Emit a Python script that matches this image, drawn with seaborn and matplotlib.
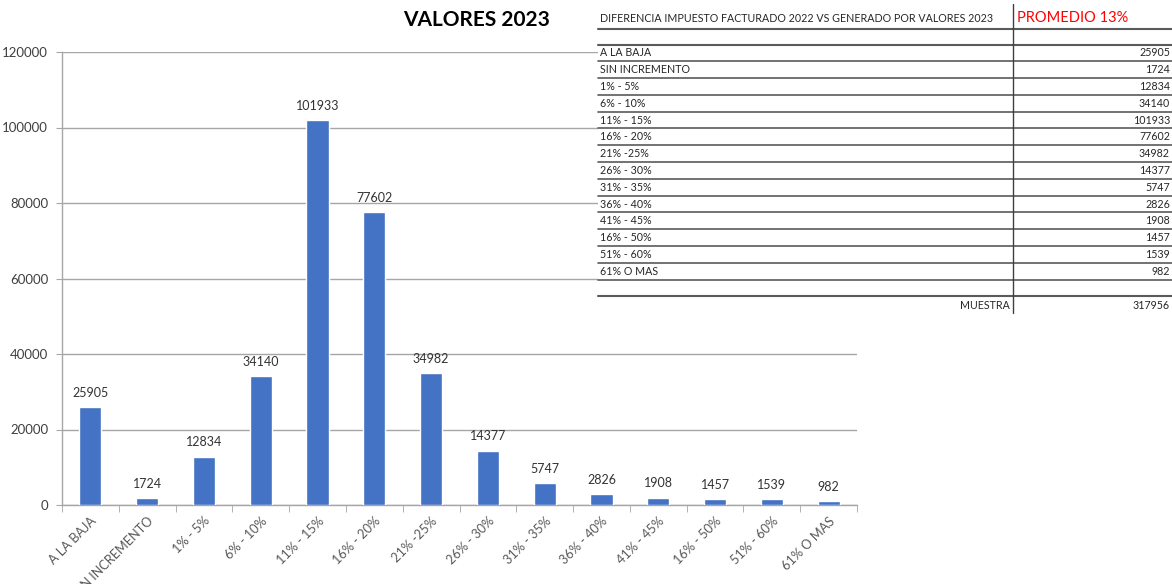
import seaborn as sns
import matplotlib.pyplot as plt
import pandas as pd
from matplotlib.patches import Rectangle

# Chart data
categories = ["A LA BAJA", "SIN INCREMENTO", "1% - 5%", "6% - 10%", "11% - 15%",
              "16% - 20%", "21% -25%", "26% - 30%", "31% - 35%", "36% - 40%",
              "41% - 45%", "16% - 50%", "51% - 60%", "61% O MAS"]
values = [25905, 1724, 12834, 34140, 101933, 77602, 34982, 14377, 5747,
          2826, 1908, 1457, 1539, 982]
y_ticks = [0, 20000, 40000, 60000, 80000, 100000, 120000]
sample_total = 317956

title = "VALORES 2023"
table_header = "DIFERENCIA IMPUESTO FACTURADO 2022 VS GENERADO POR VALORES 2023"
average_label = "PROMEDIO 13%"
total_label = "MUESTRA"

df = pd.DataFrame({"Rango": categories, "Valor": values})

sns.set_style("white")
plt.rcParams["font.family"] = ["Lato", "DejaVu Sans"]

fig = plt.figure(figsize=(11.72, 5.84), dpi=100)
ax = fig.add_axes([62 / 1172, 1 - 505 / 584, (857 - 62) / 1172, (505 - 52) / 584])

sns.barplot(data=df, x="Rango", y="Valor", color="#4472C4", width=0.39,
            saturation=1, ax=ax, zorder=3)

ax.set_ylim(0, 120000)
ax.set_xlim(-0.5, len(categories) - 0.5)
ax.set_yticks(y_ticks)
ax.set_yticklabels([str(t) for t in y_ticks], fontsize=9.5, color="#404040")
ax.yaxis.grid(True, color="#A6A6A6", linewidth=1)
ax.set_axisbelow(True)
ax.tick_params(axis="y", length=4, color="#A6A6A6", pad=6, left=True)

# Excel-style ticks between categories
ax.set_xticks(range(len(categories)))
ax.set_xticklabels(categories, rotation=45, ha="right", va="top",
                   rotation_mode="anchor", fontsize=9.2, color="#595959")
ax.set_xticks([i - 0.5 for i in range(len(categories) + 1)], minor=True)
ax.tick_params(axis="x", which="major", length=0, pad=7)
ax.tick_params(axis="x", which="minor", length=5, color="#A6A6A6", bottom=True)

for side in ["top", "right"]:
    ax.spines[side].set_visible(False)
for side in ["left", "bottom"]:
    ax.spines[side].set_color("#A6A6A6")
    ax.spines[side].set_linewidth(1)

ax.set_xlabel("")
ax.set_ylabel("")
ax.bar_label(ax.containers[0], labels=[str(v) for v in values], padding=6,
             fontsize=9, color="#333333")

fig.text(477 / 1172, 1 - 20 / 584, title, ha="center", va="center",
         fontsize=15, fontweight="bold", color="#000000")

# Table overlay in pixel coordinates
tab = fig.add_axes([0, 0, 1, 1], zorder=5)
tab.set_xlim(0, 1172)
tab.set_ylim(584, 0)
tab.axis("off")
tab.add_patch(Rectangle((598, 0), 574, 316, facecolor="white", edgecolor="none"))

line_c = "#5a5a5a"
x0, x_mid, x1 = 598, 1013, 1172
pitch = 16.8
row0 = 53

tab.text(600, 18, table_header, ha="left", va="center", fontsize=7.7, color="#262626")
tab.text(1017, 18, average_label, ha="left", va="center", fontsize=10.5, color="#FF0000")

tab.plot([x0, x1], [29, 29], color=line_c, lw=1.5)
tab.plot([x0, x1], [44.5, 44.5], color=line_c, lw=1.5)
for i, (cat, val) in enumerate(zip(categories, values)):
    y = row0 + i * pitch
    tab.text(600, y, cat, ha="left", va="center", fontsize=7.7, color="#262626")
    tab.text(1170, y, str(val), ha="right", va="center", fontsize=7.7, color="#262626")
    tab.plot([x0, x1], [y + 8.2, y + 8.2], color=line_c, lw=1.2)
y_blank = row0 + len(categories) * pitch
tab.plot([x0, x1], [y_blank + 8.2, y_blank + 8.2], color=line_c, lw=1.5)
y_tot = y_blank + pitch
tab.text(1010, y_tot, total_label, ha="right", va="center", fontsize=7.7, color="#262626")
tab.text(1170, y_tot, str(sample_total), ha="right", va="center", fontsize=7.7, color="#262626")
tab.plot([x_mid, x_mid], [4, y_tot + 8], color="#404040", lw=1)

plt.savefig("out.png", dpi=100)
